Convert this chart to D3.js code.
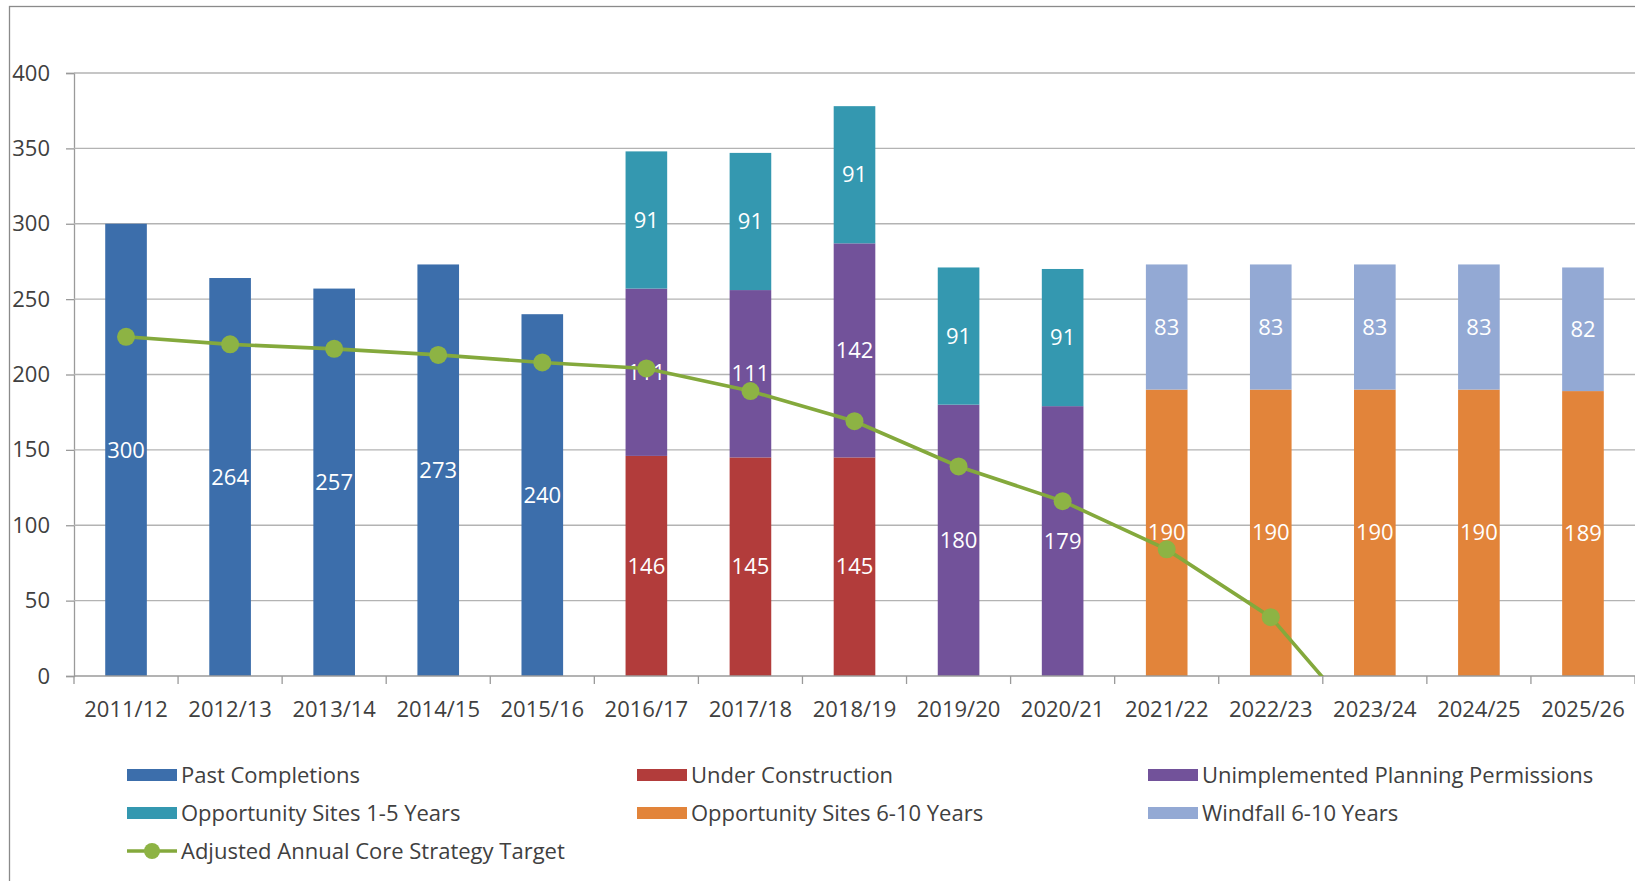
<!DOCTYPE html>
<html>
<head>
<meta charset="utf-8">
<script src="https://cdn.jsdelivr.net/npm/d3@7"></script>
<style>
  html, body { margin: 0; padding: 0; background: #fff; }
  svg { display: block; font-family: "Open Sans", "Liberation Sans", sans-serif; }
</style>
</head>
<body>
<svg id="chart" width="1635" height="881"></svg>
<script>
// ---------- data ----------
const categories = ["2011/12","2012/13","2013/14","2014/15","2015/16","2016/17","2017/18","2018/19","2019/20","2020/21","2021/22","2022/23","2023/24","2024/25","2025/26"];
const pastCompletions      = [300, 264, 257, 273, 240, 0, 0, 0, 0, 0, 0, 0, 0, 0, 0];
const underConstruction    = [0, 0, 0, 0, 0, 146, 145, 145, 0, 0, 0, 0, 0, 0, 0];
const unimplementedPP      = [0, 0, 0, 0, 0, 111, 111, 142, 180, 179, 0, 0, 0, 0, 0];
const opportunity1to5      = [0, 0, 0, 0, 0, 91, 91, 91, 91, 91, 0, 0, 0, 0, 0];
const opportunity6to10     = [0, 0, 0, 0, 0, 0, 0, 0, 0, 0, 190, 190, 190, 190, 189];
const windfall6to10        = [0, 0, 0, 0, 0, 0, 0, 0, 0, 0, 83, 83, 83, 83, 82];
const coreStrategyTarget   = [225, 220, 217, 213, 208, 204, 189, 169, 139, 116, 84, 39, -41, null, null];
const yTicks = [0, 50, 100, 150, 200, 250, 300, 350, 400];

const seriesNames = ["Past Completions","Under Construction","Unimplemented Planning Permissions","Opportunity Sites 1-5 Years","Opportunity Sites 6-10 Years","Windfall 6-10 Years"];
const seriesValues = [pastCompletions, underConstruction, unimplementedPP, opportunity1to5, opportunity6to10, windfall6to10];
const seriesColors = ["#3C6EAB", "#B23C3B", "#72529A", "#3498B0", "#E2843A", "#93A9D4"];
const lineName = "Adjusted Annual Core Strategy Target";
const lineColor = "#84A93C";
const markerColor = "#8DB344";

(function () {
// ---------- layout ----------
const svg = d3.select("#chart");
const pLeft = 74, pRight = 1635, pTop = 73, pBottom = 676;
const textColor = "#404040";
const fontSize = 22;

// border
svg.append("rect").attr("x", 9.5).attr("y", 6.5).attr("width", 1640).attr("height", 890)
  .attr("fill", "#fff").attr("stroke", "#8a8a8a").attr("stroke-width", 1.3);

const x = d3.scaleBand().domain(categories).range([pLeft, pRight]).paddingInner(0.6).paddingOuter(0.3);
const y = d3.scaleLinear().domain([0, 400]).range([pBottom, pTop]);

// y axis
const yAxis = d3.axisLeft(y).tickValues(yTicks).tickSize(8).tickPadding(16);
const gy = svg.append("g").attr("transform", `translate(${pLeft},0)`).call(yAxis);
gy.select(".domain").attr("stroke", "#9a9a9a").attr("stroke-width", 1.3);
gy.selectAll(".tick line").attr("stroke", "#9a9a9a").attr("stroke-width", 1.3);
gy.selectAll(".tick text").attr("font-size", fontSize).attr("fill", textColor)
  .attr("font-family", "'Open Sans', sans-serif");

// gridlines
svg.append("g").selectAll("line").data(yTicks.filter(d => d > 0)).join("line")
  .attr("x1", pLeft).attr("x2", pRight)
  .attr("y1", d => y(d)).attr("y2", d => y(d))
  .attr("stroke", "#b3b3b3").attr("stroke-width", 1.3);

// stacked bars
const rows = categories.map((c, i) => {
  const r = { cat: c };
  seriesNames.forEach((s, k) => r[s] = seriesValues[k][i]);
  return r;
});
const stacked = d3.stack().keys(seriesNames)(rows);

const barG = svg.append("g");
stacked.forEach((layer, k) => {
  barG.append("g").attr("fill", seriesColors[k])
    .selectAll("rect").data(layer.filter(d => d[1] - d[0] > 0)).join("rect")
    .attr("x", d => x(d.data.cat))
    .attr("width", x.bandwidth())
    .attr("y", d => y(d[1]))
    .attr("height", d => y(d[0]) - y(d[1]));
});

// x axis
const step = x.step();
svg.append("line").attr("x1", pLeft).attr("x2", pRight).attr("y1", pBottom).attr("y2", pBottom)
  .attr("stroke", "#9a9a9a").attr("stroke-width", 1.3);
svg.append("g").selectAll("line").data(d3.range(categories.length + 1)).join("line")
  .attr("x1", i => pLeft + i * step).attr("x2", i => pLeft + i * step)
  .attr("y1", pBottom).attr("y2", pBottom + 8)
  .attr("stroke", "#9a9a9a").attr("stroke-width", 1.3);
svg.append("g").selectAll("text").data(categories).join("text")
  .attr("x", d => x(d) + x.bandwidth() / 2)
  .attr("y", pBottom + 41)
  .attr("text-anchor", "middle")
  .attr("font-size", fontSize).attr("fill", textColor)
  .text(d => d);

// data labels
const labelG = svg.append("g");
stacked.forEach((layer, k) => {
  labelG.append("g").selectAll("text").data(layer.filter(d => d[1] - d[0] > 0)).join("text")
    .attr("x", d => x(d.data.cat) + x.bandwidth() / 2)
    .attr("y", d => y((d[0] + d[1]) / 2))
    .attr("dy", "0.35em")
    .attr("text-anchor", "middle")
    .attr("font-size", fontSize)
    .attr("fill", "#ffffff")
    .text(d => d[1] - d[0]);
});

// target line (clipped to plot area)
svg.append("clipPath").attr("id", "plotClip").append("rect")
  .attr("x", pLeft).attr("y", pTop - 20).attr("width", pRight - pLeft).attr("height", pBottom - pTop + 20);
const lineData = categories.map((c, i) => ({ cat: c, v: coreStrategyTarget[i] })).filter(d => d.v !== null);
const lineGen = d3.line().x(d => x(d.cat) + x.bandwidth() / 2).y(d => y(d.v));
const lg = svg.append("g").attr("clip-path", "url(#plotClip)");
lg.append("path").datum(lineData).attr("d", lineGen)
  .attr("fill", "none").attr("stroke", lineColor).attr("stroke-width", 3.6);
lg.selectAll("circle").data(lineData).join("circle")
  .attr("cx", d => x(d.cat) + x.bandwidth() / 2)
  .attr("cy", d => y(d.v))
  .attr("r", 9)
  .attr("fill", markerColor);

// legend
const legendItems = [
  { name: seriesNames[0], color: seriesColors[0], col: 0, row: 0 },
  { name: seriesNames[1], color: seriesColors[1], col: 1, row: 0 },
  { name: seriesNames[2], color: seriesColors[2], col: 2, row: 0 },
  { name: seriesNames[3], color: seriesColors[3], col: 0, row: 1 },
  { name: seriesNames[4], color: seriesColors[4], col: 1, row: 1 },
  { name: seriesNames[5], color: seriesColors[5], col: 2, row: 1 },
  { name: lineName, color: lineColor, col: 0, row: 2, line: true }
];
const colX = [127, 637, 1148];
const rowY = [775, 813, 851];
const leg = svg.append("g");
legendItems.forEach(it => {
  const gx = colX[it.col], gyy = rowY[it.row];
  if (it.line) {
    leg.append("line").attr("x1", gx).attr("x2", gx + 50).attr("y1", gyy).attr("y2", gyy)
      .attr("stroke", it.color).attr("stroke-width", 3.6);
    leg.append("circle").attr("cx", gx + 25).attr("cy", gyy).attr("r", 8).attr("fill", markerColor);
  } else {
    leg.append("rect").attr("x", gx).attr("y", gyy - 6).attr("width", 50).attr("height", 12).attr("fill", it.color);
  }
  leg.append("text").attr("x", gx + 54).attr("y", gyy).attr("dy", "0.35em")
    .attr("font-size", fontSize).attr("fill", textColor).text(it.name);
});
})();
</script>
</body>
</html>
